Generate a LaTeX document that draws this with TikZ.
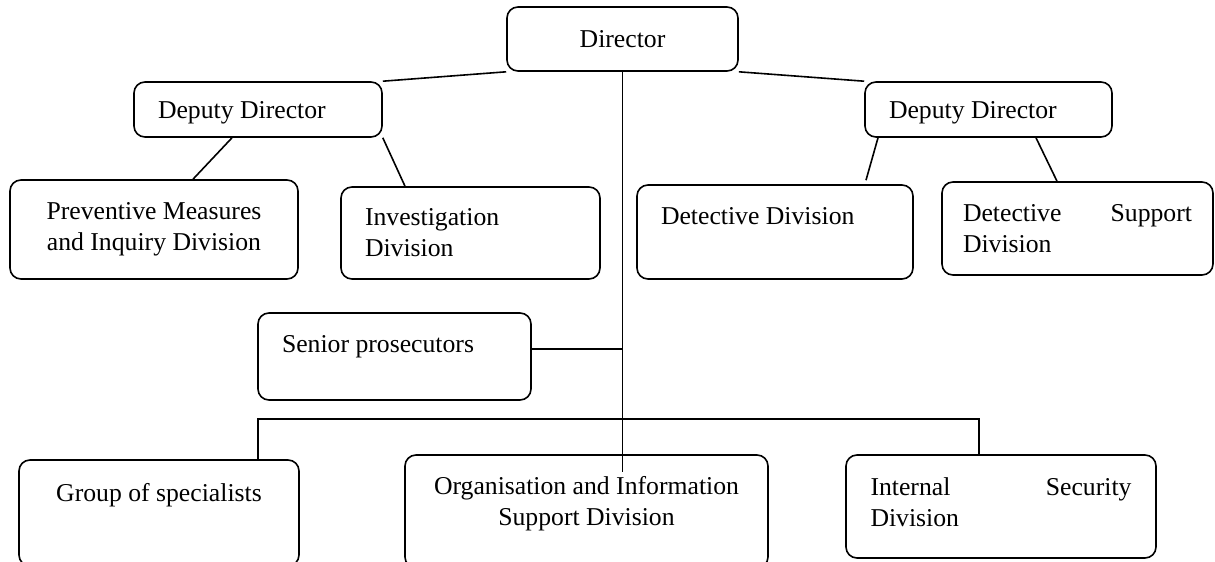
\documentclass[tikz,border=0pt]{standalone}
\usepackage{fontspec}
\setmainfont{Liberation Serif}
\usepackage{tikz}

\begin{document}
\begin{tikzpicture}[x=0.5pt, y=-0.5pt,
		unit/.style={draw, rounded corners=5.5pt, line width=0.8pt, inner ysep=0pt,
			font=\fontsize{12.85pt}{15.5pt}\selectfont},
		midbox/.style={unit, align=center},
		leftbox/.style={unit, align=flush left, inner xsep=12pt},
		link/.style={line width=0.8pt}]
		% page frame, same size as the scanned chart
		\useasboundingbox (0,0) rectangle (1215,562);

		% 1. Director and the two deputies
		\node[midbox, minimum width=115.5pt, minimum height=32pt] (dir) at (622.5,39) {Director};
		\node[leftbox, text width=100pt, minimum height=27.5pt, text depth=0pt] (dep1) at (258,109.5) {Deputy Director};
		\node[leftbox, text width=99.5pt, minimum height=27.5pt, text depth=0pt] (dep2) at (988.5,109.5) {Deputy Director};

		% 2. Divisions under the deputies
		\node[midbox, minimum width=144pt, minimum height=49.5pt] (prev) at (154,229.5) {Preventive Measures\\and Inquiry Division};
		\node[leftbox, text width=105.5pt, minimum height=46pt] (inv) at (470.5,233) {Investigation\\Division};
		\node[leftbox, text width=114pt, minimum height=47pt, text depth=16pt] (det) at (775,232) {Detective Division};
		\node[leftbox, inner xsep=10.5pt, text width=114.5pt, minimum height=46.5pt] (detsup) at (1077.5,228.5) {Detective\hfill Support\\Division};

		% 3. Prosecutors and the lower row
		\node[leftbox, text width=112.5pt, minimum height=43.5pt, text depth=12.5pt] (senior) at (394.5,356.5) {Senior prosecutors};
		\node[midbox, minimum width=140pt, minimum height=53pt, text depth=21pt] (group) at (159,513) {Group of specialists};
		\node[midbox, minimum width=181.5pt, minimum height=56.5pt, text depth=10.8pt] (org) at (586.5,511.5) {Organisation and Information\\Support Division};
		\node[leftbox, inner xsep=12.25pt, text width=130.5pt, minimum height=51.5pt, text depth=20pt] (int) at (1001,506.5) {Internal\hfill Security\\Division};

		% 4. Links from the top
		\draw[link] (dir.south west) -- (dep1.north east);
		\draw[link] (dir.south east) -- (dep2.north west);
		\draw[link] ([xshift=-13pt]dep1.south) -- ([xshift=19.5pt]prev.north);
		\draw[link] (dep1.south east) -- ([xshift=-32.75pt]inv.north);
		\draw[link] ([xshift=-55.25pt]dep2.south) -- ([xshift=45.5pt,yshift=2pt]det.north);
		\draw[link] ([xshift=23.75pt]dep2.south) -- ([xshift=-10.25pt]detsup.north);

		% 5. Main trunk, prosecutors branch and the bus line
		\coordinate (trunk) at (622.5,472);
		\draw[link] (dir.south) -- (trunk);
		\coordinate (sp) at ([yshift=3.75pt]senior.east);
		\draw[link] (sp) -- (sp -| trunk);
		\coordinate (bus) at (600,419);
		\coordinate (gdrop) at ([xshift=49.5pt]group.north);
		\coordinate (idrop) at ([xshift=-11pt]int.north);
		\draw[link] (gdrop) |- (bus -| idrop) -- (idrop);
	\end{tikzpicture}
\end{document}
